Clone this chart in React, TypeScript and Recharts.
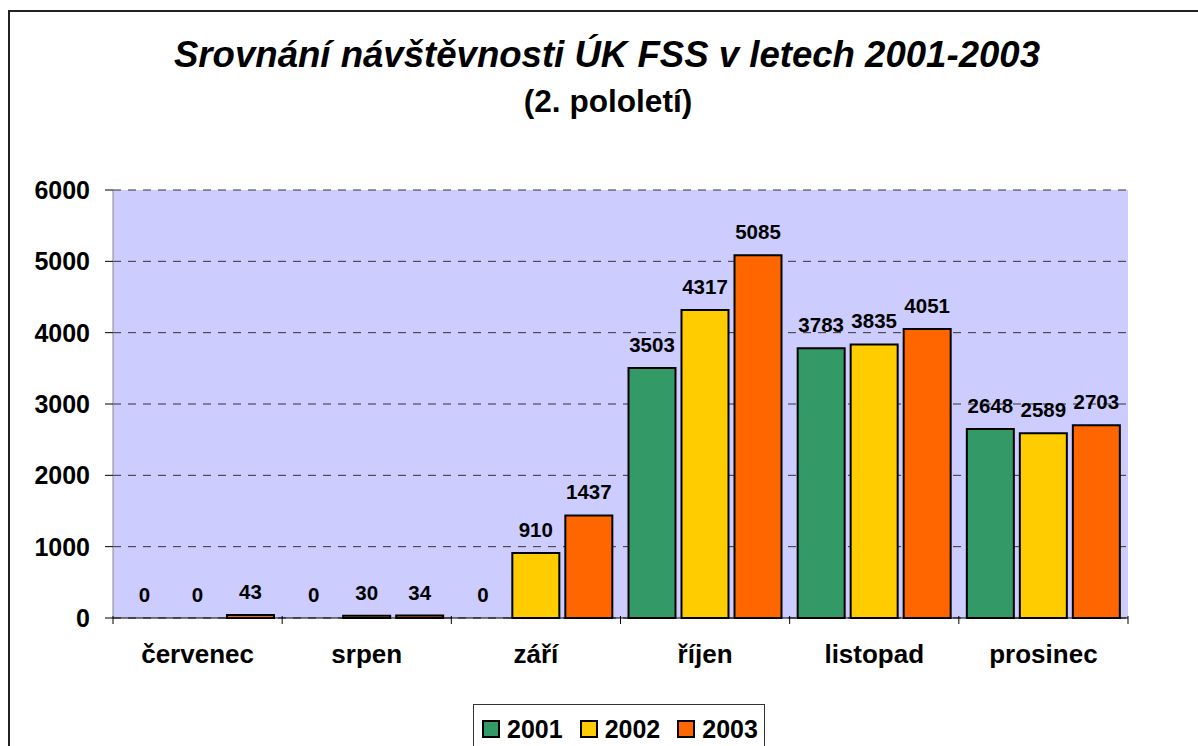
import React from 'react';
import { BarChart, Bar, XAxis, YAxis, CartesianGrid, LabelList, Rectangle } from 'recharts';

const months = ['červenec', 'srpen', 'září', 'říjen', 'listopad', 'prosinec'];
const visits2001 = [0, 0, 0, 3503, 3783, 2648];
const visits2002 = [0, 30, 910, 4317, 3835, 2589];
const visits2003 = [43, 34, 1437, 5085, 4051, 2703];
const yTicks = [0, 1000, 2000, 3000, 4000, 5000, 6000];

const SERIES = [
  { key: 'y2001', name: '2001', color: '#339966' },
  { key: 'y2002', name: '2002', color: '#FFCC00' },
  { key: 'y2003', name: '2003', color: '#FF6600' },
];

const data = months.map((m, i) => ({
  month: m,
  y2001: visits2001[i],
  y2002: visits2002[i],
  y2003: visits2003[i],
}));

const FONT = '"Liberation Sans", Arial, Helvetica, sans-serif';

// category label plus tick marks on the category boundaries
const MonthTick = (props: any) => {
  const { x, y, payload, index } = props;
  const half = payload?.offset ?? 1015 / 12;
  const axisY = y - 10;
  return (
    <g>
      <line x1={x - half} y1={axisY} x2={x - half} y2={axisY + 8} stroke="#000" />
      {index === months.length - 1 && (
        <line x1={x + half} y1={axisY} x2={x + half} y2={axisY + 8} stroke="#000" />
      )}
      <text x={x} y={axisY + 47} textAnchor="middle" fontSize={26} fontWeight="bold" fill="#000" fontFamily={FONT}>
        {payload.value}
      </text>
    </g>
  );
};

// value label above a bar, zero included
const ValueLabel = (props: any) => {
  const { x, y, width, value } = props;
  if (x == null || y == null) return null;
  return (
    <text
      x={Number(x) + Number(width) / 2}
      y={Number(y) - 16}
      textAnchor="middle"
      fontSize={20.5}
      fontWeight="bold"
      fill="#000"
      fontFamily={FONT}
    >
      {String(Array.isArray(value) ? value[1] : value ?? 0)}
    </text>
  );
};

// zero bars get a hair of height so their label survives; draw nothing for them
const BarShape = (props: any) => {
  if (Math.abs(props.height) < 0.5) return null;
  return <Rectangle {...props} />;
};

const LegendBox = () => (
  <div
    style={{
      position: 'absolute',
      left: 473,
      top: 704,
      display: 'flex',
      alignItems: 'center',
      border: '1.5px solid #333',
      background: '#fff',
      width: 292,
      height: 50,
      boxSizing: 'border-box',
      paddingLeft: 8,
      fontFamily: FONT,
      fontWeight: 'bold',
      fontSize: 25,
    }}
  >
    {SERIES.map((s) => (
      <div key={s.key} style={{ display: 'flex', alignItems: 'center', marginRight: 17 }}>
        <span
          style={{
            display: 'inline-block',
            width: 14,
            height: 14,
            background: s.color,
            border: '2px solid #000',
            marginRight: 7,
          }}
        />
        <span>{s.name}</span>
      </div>
    ))}
  </div>
);

export default function App() {
  return (
    <div style={{ position: 'absolute', left: 0, top: 0, width: 1198, height: 746, overflow: 'hidden', background: '#fff' }}>
      <div
        style={{
          position: 'absolute',
          left: 8,
          top: 10,
          width: 1250,
          height: 800,
          border: '2px solid #222',
        }}
      />
      <div
        style={{
          position: 'absolute',
          left: 607,
          top: 37,
          transform: 'translateX(-50%)',
          whiteSpace: 'nowrap',
          fontFamily: FONT,
          fontSize: 36.6,
          lineHeight: '36px',
          fontWeight: 'bold',
          fontStyle: 'italic',
        }}
      >
        Srovnání návštěvnosti ÚK FSS v letech 2001-2003
      </div>
      <div
        style={{
          position: 'absolute',
          left: 608,
          top: 86,
          transform: 'translateX(-50%)',
          whiteSpace: 'nowrap',
          fontFamily: FONT,
          fontSize: 31.6,
          lineHeight: '31px',
          fontWeight: 'bold',
        }}
      >
        (2. pololetí)
      </div>
      <div style={{ position: 'absolute', left: 0, top: 0 }}>
        <BarChart
          width={1198}
          height={746}
          data={data}
          margin={{ top: 190, right: 70, bottom: 0, left: 0 }}
          barCategoryGap={8}
          barGap={6}
        >
          <CartesianGrid vertical={false} stroke="#333" strokeDasharray="8 7" fill="#CCCCFF" fillOpacity={1} />
          <XAxis
            dataKey="month"
            height={128}
            tickLine={false}
            axisLine={{ stroke: '#000' }}
            tick={<MonthTick />}
            interval={0}
          />
          <YAxis
            width={113}
            domain={[0, 6000]}
            ticks={yTicks}
            interval={0}
            tickSize={8}
            tickMargin={15}
            axisLine={{ stroke: '#888' }}
            tickLine={{ stroke: '#000' }}
            tick={{ fontSize: 25, fontWeight: 'bold', fill: '#000', fontFamily: FONT }}
          />
          {SERIES.map((s) => (
            <Bar
              key={s.key}
              dataKey={s.key}
              name={s.name}
              fill={s.color}
              stroke="#000"
              strokeWidth={2}
              minPointSize={(v: number) => (v === 0 ? 0.01 : 0)}
              shape={<BarShape />}
              isAnimationActive={false}
            >
              <LabelList dataKey={s.key} position="top" content={<ValueLabel />} />
            </Bar>
          ))}
        </BarChart>
      </div>
      <LegendBox />
    </div>
  );
}
